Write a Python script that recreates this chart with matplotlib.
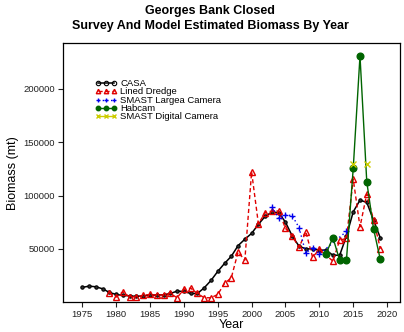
import numpy as np
import matplotlib
matplotlib.use('Agg')
import matplotlib.pyplot as plt
from matplotlib.lines import Line2D

plt.rcParams['font.family'] = ['Liberation Sans', 'DejaVu Sans']

# Datos
anios_casa = list(range(1975, 2020))
casa = [13800, 15000, 14400, 12500, 9100, 7200, 6300, 5900, 5300, 5900,
        6600, 6600, 6900, 8100, 10300, 10000, 8100, 8100, 13400, 20300,
        28800, 36300, 43000, 53000, 59000, 64500, 73000, 80500, 84500, 84000,
        75000, 62000, 52500, 50000, 50000, 48800, 48800, 44000, 44000, 62000,
        84700, 95700, 93600, 76900, 60300]

anios_draga = list(range(1979, 2011)) + list(range(2012, 2020))
draga = [8700, 4700, 9700, 4700, 5100, 6300, 7200, 6600, 6900, 8100,
         4100, 12200, 13100, 8100, 4100, 4100, 7200, 17500, 22800, 47000,
         39400, 122200, 73500, 83800, 85500, 85500, 69200, 62000, 51300, 66000,
         42200, 49400,
         38500, 58200, 59700, 115500, 70600, 101500, 77200, 50300]

anios_largea = [2003, 2004, 2005, 2006, 2007, 2008, 2009, 2010, 2014]
largea = [89500, 78500, 82200, 81000, 70000, 46000, 51200, 45000, 66300]

anios_habcam = list(range(2011, 2020))
habcam = [45600, 60500, 39400, 39400, 125400, 231000, 113000, 68800, 40000]

anios_digital = [2015, 2016, 2017]
digital = [130000, np.nan, 130000]

etiquetas = ['CASA', 'Lined Dredge', 'SMAST Largea Camera', 'Habcam',
             'SMAST Digital Camera']

estilos = [
    dict(color='black', linewidth=1.1, marker='o', markersize=2.4,
         markerfacecolor='#333333', markeredgewidth=0.8),
    dict(color='#e00000', linewidth=1.0, linestyle=(0, (3, 2)), marker='^',
         markersize=4.2, markerfacecolor='none', markeredgewidth=1.0),
    dict(color='#0000ee', linewidth=1.0, linestyle=(0, (1, 2)), marker='+',
         markersize=5, markeredgewidth=1.0),
    dict(color='#006400', linewidth=1.0, marker='o', markersize=4.8),
    dict(color='#cdcd00', linewidth=1.0, marker='x', markersize=4.5,
         markeredgewidth=1.0),
]

fig = plt.figure(figsize=(4.04, 3.32), dpi=100)
ax = fig.add_axes([0.155, 0.090, 0.835, 0.780])

series = [(anios_casa, casa), (anios_draga, draga), (anios_largea, largea),
          (anios_habcam, habcam), (anios_digital, digital)]
for (x, y), est, lab in zip(series, estilos, etiquetas):
    ax.plot(x, y, label=lab, **est)

ax.set_xlim(1972.1, 2021.9)
ax.set_ylim(0, 243000)
ax.set_xticks(range(1975, 2021, 5))
ax.set_yticks([50000, 100000, 150000, 200000])
ax.tick_params(labelsize=6.8, length=3.5, width=0.8, pad=2, direction='out',
               colors='#222222')
for s in ax.spines.values():
    s.set_linewidth(0.9)

ax.set_xlabel('Year', fontsize=9, labelpad=0)
ax.set_ylabel('Biomass (mt)', fontsize=9, labelpad=3)

fig.text(0.52, 0.968, 'Georges Bank Closed', ha='center', va='center',
         fontsize=9, fontweight='bold')
fig.text(0.52, 0.922, 'Survey And Model Estimated Biomass By Year', ha='center',
         va='center', fontsize=9, fontweight='bold')

# Leyenda con marcadores pequeños, como en el original
manejadores = []
for i, est in enumerate(estilos):
    e = dict(est)
    e['markersize'] = min(e['markersize'], 3.2)
    if i == 0:
        e['markerfacecolor'] = 'none'
        e['markersize'] = 3.2
    manejadores.append(Line2D([], [], **e))
ax.legend(manejadores, etiquetas, loc='upper left', bbox_to_anchor=(0.095, 0.86),
          frameon=False, fontsize=6.8, numpoints=3, handlelength=2.3,
          handletextpad=0.4, labelspacing=-0.1, handleheight=0.5,
          borderaxespad=0, borderpad=0)

fig.savefig('out.png', dpi=100)
